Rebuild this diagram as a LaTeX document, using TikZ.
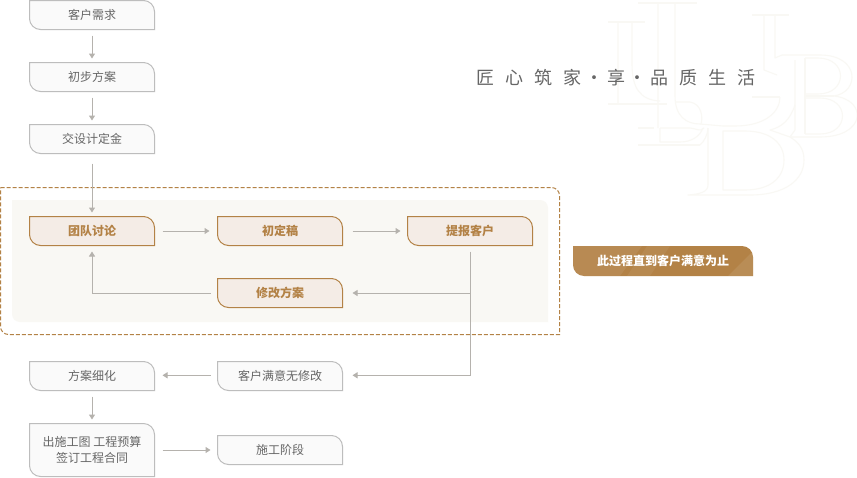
\documentclass[tikz,border=0pt]{standalone}
\usepackage{fontspec}
\setmainfont[Kerning=Off]{Noto Sans CJK SC}
\usetikzlibrary{arrows.meta}

% Rectangle whose top-right and bottom-left corners are rounded
\makeatletter
\newdimen\leafradius
\newdimen\leafL \newdimen\leafB \newdimen\leafR \newdimen\leafT
\newdimen\leafRi \newdimen\leafRc \newdimen\leafTi \newdimen\leafTc
\newdimen\leafLi \newdimen\leafLc \newdimen\leafBi \newdimen\leafBc
\leafradius=11pt
\pgfdeclareshape{leafbox}{
  \inheritsavedanchors[from=rectangle]
  \inheritanchorborder[from=rectangle]
  \inheritanchor[from=rectangle]{center}
  \inheritanchor[from=rectangle]{text}
  \inheritanchor[from=rectangle]{base}
  \inheritanchor[from=rectangle]{mid}
  \inheritanchor[from=rectangle]{north}
  \inheritanchor[from=rectangle]{south}
  \inheritanchor[from=rectangle]{east}
  \inheritanchor[from=rectangle]{west}
  \backgroundpath{
    \southwest \leafL=\pgf@x \leafB=\pgf@y
    \northeast \leafR=\pgf@x \leafT=\pgf@y
    \leafRi=\dimexpr\leafR-\leafradius\relax
    \leafRc=\dimexpr\leafR-0.45\leafradius\relax
    \leafTi=\dimexpr\leafT-\leafradius\relax
    \leafTc=\dimexpr\leafT-0.45\leafradius\relax
    \leafLi=\dimexpr\leafL+\leafradius\relax
    \leafLc=\dimexpr\leafL+0.45\leafradius\relax
    \leafBi=\dimexpr\leafB+\leafradius\relax
    \leafBc=\dimexpr\leafB+0.45\leafradius\relax
    \pgfpathmoveto{\pgfqpoint{\leafL}{\leafT}}
    \pgfpathlineto{\pgfqpoint{\leafRi}{\leafT}}
    \pgfpathcurveto{\pgfqpoint{\leafRc}{\leafT}}{\pgfqpoint{\leafR}{\leafTc}}{\pgfqpoint{\leafR}{\leafTi}}
    \pgfpathlineto{\pgfqpoint{\leafR}{\leafB}}
    \pgfpathlineto{\pgfqpoint{\leafLi}{\leafB}}
    \pgfpathcurveto{\pgfqpoint{\leafLc}{\leafB}}{\pgfqpoint{\leafL}{\leafBc}}{\pgfqpoint{\leafL}{\leafBi}}
    \pgfpathclose
  }
}
\makeatother

\definecolor{plainline}{HTML}{BDBDBD}
\definecolor{plainfill}{HTML}{FAFAFA}
\definecolor{plaintext}{HTML}{666666}
\definecolor{goldline}{HTML}{B38246}
\definecolor{goldfill}{HTML}{F4ECE6}
\definecolor{panelfill}{HTML}{F9F8F4}
\definecolor{linkline}{HTML}{B5B2AD}
\definecolor{crest}{HTML}{F9F8F4}

\tikzset{
  x=1pt, y=-1pt,
  every node/.style={outer sep=0pt},
  plainbox/.style={shape=leafbox, draw=plainline, fill=plainfill, line width=1pt,
    text=plaintext, font=\fontsize{12}{16.5}\selectfont, align=center, inner sep=0pt,
    minimum width=125pt, minimum height=29pt},
  goldbox/.style={plainbox, draw=goldline, fill=goldfill, text=goldline,
    font=\fontsize{12}{16.5}\selectfont\bfseries},
  link/.style={draw=linkline, line width=1pt, -{Triangle[length=5pt,width=6pt]}},
  crestline/.style={draw=crest, line width=1.1pt, line join=round},
}

\begin{document}
\begin{tikzpicture}
\useasboundingbox (0,0) rectangle (857,477);
\fill[white] (0,0) rectangle (857,477);

% Monogram of overlapping serif capitals
\begin{scope}[crestline]
  % left L
  \draw (608,22) -- (645,22) (608,104) -- (667,104);
  \draw (618,22) -- (618,104) (632,22) -- (632,64) .. controls (632,88) and (640,100) .. (660,101);
  % upper L
  \draw (638,3) -- (697,3) (638,145) -- (700,145) (638,128) -- (654,128);
  \draw (658,3) -- (658,128) (675,3) -- (675,96) .. controls (675,116) and (686,124) .. (700,124) -- (723,126);
  % right L
  \draw (752,15) -- (789,15) (752,97) -- (780,97);
  \draw (764,15) -- (764,70) -- (777,75) (775,15) -- (775,58) -- (782,55);
  % right B
  \draw (782,55) -- (820,55) .. controls (860,55) and (860,92) .. (834,96)
        .. controls (868,100) and (866,137) .. (820,137) -- (790,137);
  \draw (805,58) -- (805,134) (805,96) -- (834,96);
  \draw (805,58) -- (818,58) .. controls (848,58) and (848,94) .. (818,94) -- (805,94);
  \draw (805,134) -- (820,134) .. controls (850,134) and (850,98) .. (820,98) -- (805,98);
  \draw (795,60) -- (795,130) -- (790,137);
  % middle B
  \draw (675,102) -- (690,102) .. controls (702,104) and (703,118) .. (701,124);
  \draw (660,128) -- (690,128) .. controls (698,129) and (700,132) .. (704,128);
  \draw (660,128) -- (660,142) -- (680,142) .. controls (692,142) and (700,136) .. (703,128);
  \draw (700,145) .. controls (704,142) and (708,134) .. (708,128);
  % lower B
  \draw (708,128) -- (708,185) .. controls (708,192) and (700,194) .. (688,195) -- (750,195)
        .. controls (785,195) and (804,180) .. (804,160) .. controls (804,148) and (798,142) .. (790,137);
  \draw (723,131) -- (723,190) -- (745,190) .. controls (770,190) and (784,178) .. (784,160)
        .. controls (784,143) and (770,131) .. (745,131) -- cycle;
  % upper B bowl
  \draw (780,97) .. controls (780,112) and (765,126) .. (735,126) -- (723,126);
  \draw (795,105) .. controls (790,120) and (782,127) .. (770,130) -- (790,137);
\end{scope}

\node[font=\fontsize{18}{20}\selectfont, text=plaintext, anchor=center] (motto) at (616,77.5)
  {匠\hspace{11.1pt}心\hspace{11.1pt}筑\hspace{11.1pt}家\hspace{11.1pt}\makebox[3pt][c]{·}\hspace{11.1pt}享\hspace{11.1pt}\makebox[3pt][c]{·}\hspace{11.1pt}品\hspace{11.1pt}质\hspace{11.1pt}生\hspace{11.1pt}活};

% Process zone
\begin{scope}
  \leafradius=8pt
  \node[shape=leafbox, draw=goldline, dash pattern=on 4pt off 2pt, line width=1pt,
        minimum width=559pt, minimum height=147pt, inner sep=0pt] (zone) at (280,261) {};
  \node[shape=leafbox, fill=panelfill, minimum width=536pt, minimum height=122pt, inner sep=0pt] (panel) at (280,261) {};
\end{scope}

% Steps before the zone
\node[plainbox] (need) at (92,15) {客户需求};
\node[plainbox] (draft) at (92,77) {初步方案};
\node[plainbox] (deposit) at (92,139) {交设计定金};

% Steps inside the zone
\node[goldbox] (team) at (92,231) {团队讨论};
\node[goldbox] (first) at (280,231) {初定稿};
\node[goldbox] (report) at (470,231) {提报客户};
\node[goldbox] (revise) at (280,293) {修改方案};

% Steps after the zone
\node[plainbox] (accept) at (280,376) {客户满意无修改};
\node[plainbox] (refine) at (92,376) {方案细化};
\node[plainbox, minimum height=53pt] (docs) at (92,450) {出施工图 工程预算\\签订工程合同};
\node[plainbox] (build) at (280,450) {施工阶段};

% Note beside the zone, with faint diagonal bands
\begin{scope}
  \leafradius=11pt
  \node[shape=leafbox, fill=goldline, minimum width=180pt, minimum height=30pt, inner sep=0pt,
        path picture={
          \fill[white, opacity=.07] (-90,-15) -- (-21,-15) -- (-43,15) -- (-90,15) -- cycle;
          \fill[white, opacity=.06] (-16,-15) -- (7,-15) -- (-13,15) -- (-36,15) -- cycle;
          \fill[white, opacity=.09] (65,15) -- (95,-15) -- (95,15) -- cycle;
        }] (note) at (663,261) {};
  \node[font=\fontsize{12}{14}\selectfont\bfseries, text=white] (notetext) at (663,260.5) {此过程直到客户满意为止};
\end{scope}

% Connectors
\coordinate (fork) at (470,293);
\draw[link, shorten <=6pt, shorten >=4pt] (need) -- (draft);
\draw[link, shorten <=6pt, shorten >=4pt] (draft) -- (deposit);
\draw[link, shorten <=10pt, shorten >=4pt] (deposit) -- (team);
\draw[link, shorten <=8pt, shorten >=8pt] (team) -- (first);
\draw[link, shorten <=10pt, shorten >=7pt] (first) -- (report);
\draw[link, shorten <=7pt, shorten >=6pt] (revise.west) -| (team.south);
\draw[link, shorten >=10pt] (fork) -- (revise);
\draw[link, shorten <=6pt, shorten >=10pt] (report.south) |- ([yshift=.7pt]accept.east);
\draw[link, shorten <=7pt, shorten >=8pt] ([yshift=.7pt]accept.west) -- ([yshift=.7pt]refine.east);
\draw[link, shorten <=6pt, shorten >=4pt] (refine) -- (docs);
\draw[link, shorten <=8pt, shorten >=7pt] (docs.east |- build) -- (build);
\end{tikzpicture}
\end{document}
